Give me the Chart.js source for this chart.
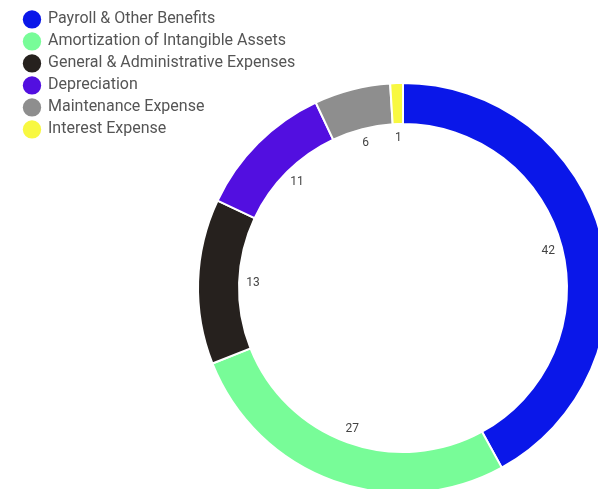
<!DOCTYPE html>
<html lang="en">
  <head>
    <meta charset="UTF-8" />
    <title>Operating Expenses</title>
    <script src="https://cdn.jsdelivr.net/npm/chart.js"></script>
    <style>
      body { margin: 0; overflow: hidden; background: #fff; }
    </style>
  </head>
  <body>
    <canvas id="myChart" width="800" height="600"></canvas>

    <script>
      const categories = [
        'Payroll & Other Benefits',
        'Amortization of Intangible Assets',
        'General & Administrative Expenses',
        'Depreciation',
        'Maintenance Expense',
        'Interest Expense',
      ];
      const values = [42, 27, 13, 11, 6, 1];
      const colors = ['#0a17e9', '#78fc98', '#26211e', '#520fe0', '#8e8e8e', '#f8f841'];

      // value text sits just inside the hole, at the middle of each arc
      const arcLabels = {
        id: 'arcLabels',
        afterDatasetsDraw(chart) {
          const ctx = chart.ctx;
          const meta = chart.getDatasetMeta(0);
          ctx.save();
          ctx.font = '12px Roboto';
          ctx.fillStyle = '#444';
          ctx.textAlign = 'center';
          ctx.textBaseline = 'middle';
          meta.data.forEach((arc, i) => {
            const p = arc.getProps(['x', 'y', 'startAngle', 'endAngle', 'innerRadius'], true);
            const mid = (p.startAngle + p.endAngle) / 2;
            const r = p.innerRadius - 14;
            ctx.fillText(values[i], p.x + Math.cos(mid) * r, p.y + Math.sin(mid) * r);
          });
          ctx.restore();
        },
      };

      Chart.defaults.font.family = 'Roboto';

      const ctx = document.getElementById('myChart').getContext('2d');
      const myChart = new Chart(ctx, {
        type: 'doughnut',
        plugins: [arcLabels],
        data: {
          labels: categories,
          datasets: [
            {
              data: values,
              backgroundColor: colors,
              borderColor: '#fff',
              borderWidth: 2,
              radius: 205,
              cutout: '80%',
            },
          ],
        },
        options: {
          responsive: false,
          animation: false,
          layout: {
            padding: { left: 18, right: 12, top: 9.5, bottom: 33.5 },
          },
          plugins: {
            tooltip: { enabled: false },
            legend: {
              position: 'chartArea',
              align: 'start',
              // empty title just pushes the list down a few pixels
              title: { display: true, text: '', font: { size: 4.5 }, padding: 0 },
              labels: {
                usePointStyle: true,
                pointStyle: 'circle',
                boxHeight: 13,
                padding: 6,
                color: '#555',
                font: { size: 16 },
                generateLabels: (chart) => {
                  const items = Chart.overrides.doughnut.plugins.legend.labels.generateLabels(chart);
                  items.forEach((it) => { it.lineWidth = 0; });
                  return items;
                },
              },
            },
          },
        },
      });
    </script>
  </body>
</html>
